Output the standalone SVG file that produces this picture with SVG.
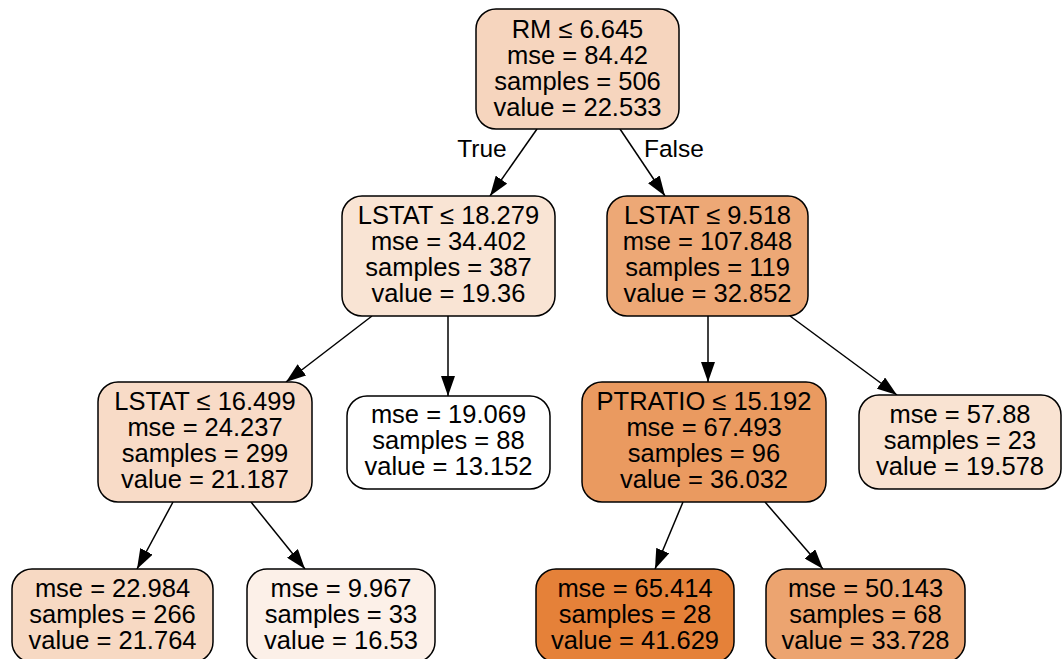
<svg xmlns="http://www.w3.org/2000/svg" width="1063" height="659" viewBox="0 0 1063 659">
<style>
.n rect{stroke:#000;stroke-width:1.5}
text{font-family:"Liberation Sans",Arial,sans-serif;font-size:25.5px;fill:#000;text-anchor:middle}
.e text{font-size:24.5px}
.e line{stroke:#000;stroke-width:1.5;marker-end:url(#ah)}
</style>
<defs>
<marker id="ah" markerUnits="userSpaceOnUse" markerWidth="20" markerHeight="14" refX="20" refY="7" orient="auto">
<path d="M0,0 L20,7 L0,14 z" fill="#000"/>
</marker>
</defs>
<rect width="1063" height="659" fill="#fff"/>
<g id="edges" class="e">
<line x1="537" y1="129" x2="490" y2="196"/>
<line x1="620" y1="129" x2="665" y2="196"/>
<line x1="372" y1="316" x2="286" y2="382"/>
<line x1="448" y1="316" x2="448" y2="396"/>
<line x1="708" y1="316" x2="708" y2="382"/>
<line x1="790" y1="316" x2="897" y2="395"/>
<line x1="173" y1="502" x2="137" y2="569"/>
<line x1="251" y1="502" x2="305" y2="569"/>
<line x1="683" y1="502" x2="655" y2="569"/>
<line x1="765" y1="502" x2="823" y2="569"/>
<text x="482" y="157">True</text>
<text x="674" y="157">False</text>
</g>
<g id="n0" class="n"><rect x="476" y="9" width="203" height="120" rx="20" fill="#f6d5be"/>
<text x="577.5" y="38">RM ≤ 6.645</text><text x="577.5" y="64">mse = 84.42</text><text x="577.5" y="90">samples = 506</text><text x="577.5" y="116">value = 22.533</text></g>
<g id="n1" class="n"><rect x="342" y="196" width="213" height="120" rx="20" fill="#f9e4d4"/>
<text x="448.5" y="224">LSTAT ≤ 18.279</text><text x="448.5" y="250">mse = 34.402</text><text x="448.5" y="276">samples = 387</text><text x="448.5" y="302">value = 19.36</text></g>
<g id="n2" class="n"><rect x="607" y="196" width="201" height="120" rx="20" fill="#eda876"/>
<text x="707.5" y="224">LSTAT ≤ 9.518</text><text x="707.5" y="250">mse = 107.848</text><text x="707.5" y="276">samples = 119</text><text x="707.5" y="302">value = 32.852</text></g>
<g id="n3" class="n"><rect x="98" y="382" width="214" height="120" rx="20" fill="#f8dbc7"/>
<text x="205" y="410">LSTAT ≤ 16.499</text><text x="205" y="436">mse = 24.237</text><text x="205" y="462">samples = 299</text><text x="205" y="488">value = 21.187</text></g>
<g id="n4" class="n"><rect x="347" y="396" width="203" height="93" rx="20" fill="#ffffff"/>
<text x="448.5" y="423">mse = 19.069</text><text x="448.5" y="449">samples = 88</text><text x="448.5" y="475">value = 13.152</text></g>
<g id="n5" class="n"><rect x="582" y="382" width="244" height="120" rx="20" fill="#ea9a60"/>
<text x="704" y="410">PTRATIO ≤ 15.192</text><text x="704" y="436">mse = 67.493</text><text x="704" y="462">samples = 96</text><text x="704" y="488">value = 36.032</text></g>
<g id="n6" class="n"><rect x="859" y="395" width="202" height="94" rx="20" fill="#f9e3d2"/>
<text x="960" y="423">mse = 57.88</text><text x="960" y="449">samples = 23</text><text x="960" y="475">value = 19.578</text></g>
<g id="n7" class="n"><rect x="12" y="569" width="201" height="93" rx="20" fill="#f7d9c3"/>
<text x="112.5" y="597">mse = 22.984</text><text x="112.5" y="623">samples = 266</text><text x="112.5" y="649">value = 21.764</text></g>
<g id="n8" class="n"><rect x="247" y="569" width="188" height="93" rx="20" fill="#fcf0e8"/>
<text x="341" y="597">mse = 9.967</text><text x="341" y="623">samples = 33</text><text x="341" y="649">value = 16.53</text></g>
<g id="n9" class="n"><rect x="536" y="569" width="198" height="93" rx="20" fill="#e58139"/>
<text x="635" y="597">mse = 65.414</text><text x="635" y="623">samples = 28</text><text x="635" y="649">value = 41.629</text></g>
<g id="n10" class="n"><rect x="766" y="569" width="199" height="93" rx="20" fill="#eca470"/>
<text x="865.5" y="597">mse = 50.143</text><text x="865.5" y="623">samples = 68</text><text x="865.5" y="649">value = 33.728</text></g>
</svg>
